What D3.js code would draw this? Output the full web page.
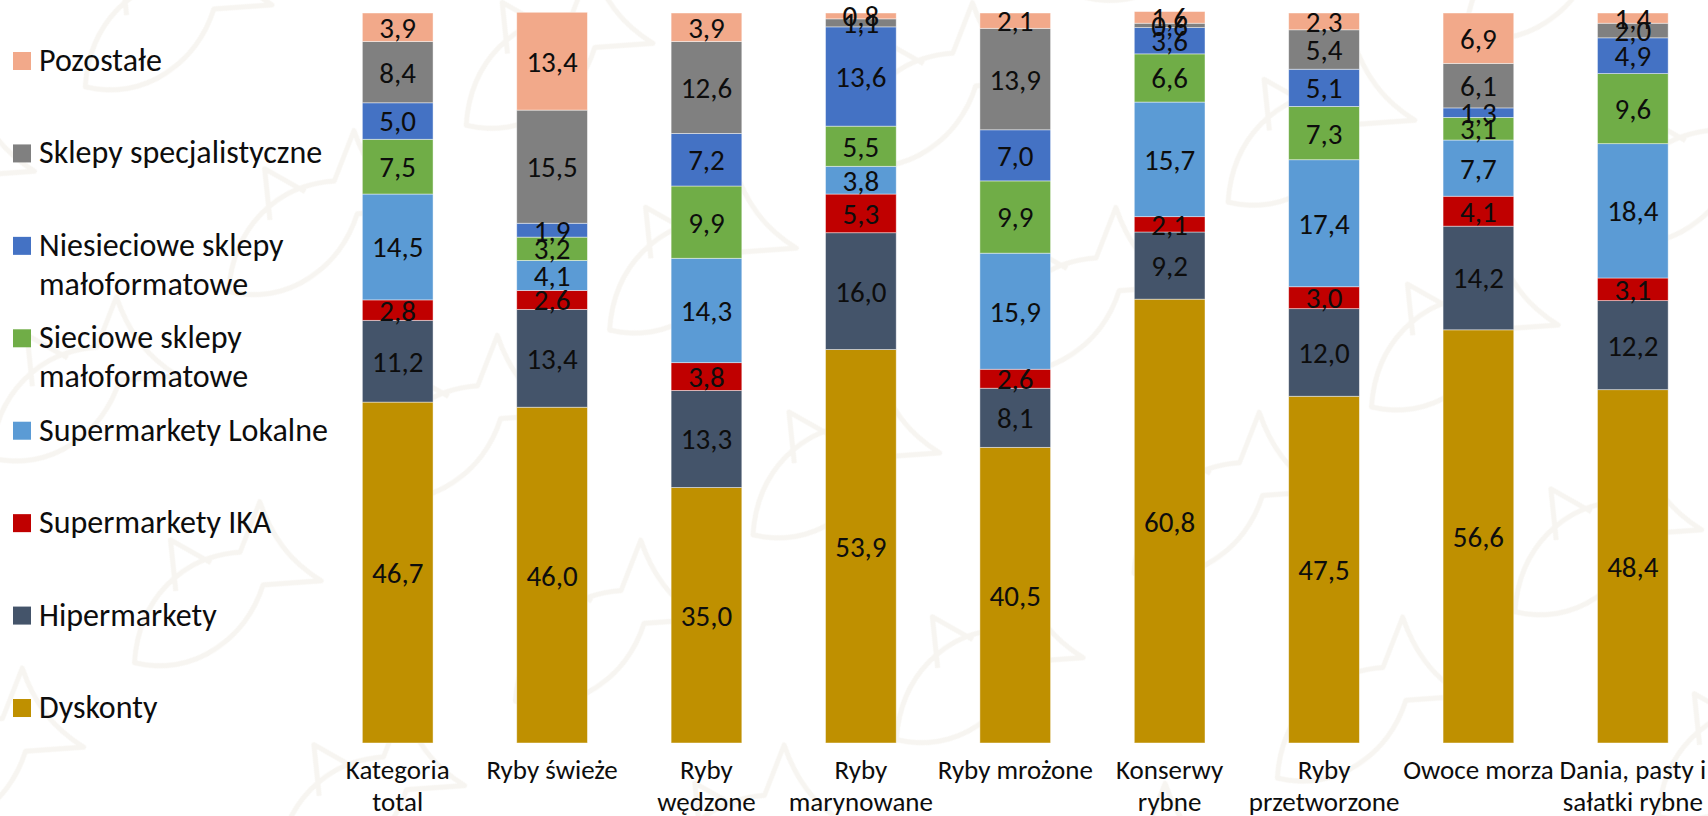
<!DOCTYPE html>
<html>
<head>
<meta charset="utf-8">
<script src="https://cdn.jsdelivr.net/npm/d3@7"></script>
<style>
  html, body { margin: 0; padding: 0; background: #fff; }
  svg { display: block; font-family: Carlito, Lato, sans-serif; }
</style>
</head>
<body>
<svg id="chart" width="1708" height="816"></svg>
<script>
// categories along the x axis ('\n' = line break in the label)
const categories = [
  'Kategoria\ntotal', 'Ryby świeże', 'Ryby\nwędzone', 'Ryby\nmarynowane', 'Ryby mrożone',
  'Konserwy\nrybne', 'Ryby\nprzetworzone', 'Owoce morza', 'Dania, pasty i\nsałatki rybne'
]

// series, bottom of the stack first
const seriesNames = [
  'Dyskonty', 'Hipermarkety', 'Supermarkety IKA', 'Supermarkety Lokalne',
  'Sieciowe sklepy\nmałoformatowe', 'Niesieciowe sklepy\nmałoformatowe',
  'Sklepy specjalistyczne', 'Pozostałe'
]
const seriesColors = ['#BF9000', '#44546A', '#C00000', '#5B9BD5', '#70AD47', '#4472C4', '#808080', '#F2A98A']

// values per series, one per category (%)
const dyskonty = [46.7, 46.0, 35.0, 53.9, 40.5, 60.8, 47.5, 56.6, 48.4]
const hipermarkety = [11.2, 13.4, 13.3, 16.0, 8.1, 9.2, 12.0, 14.2, 12.2]
const supermarketyIka = [2.8, 2.6, 3.8, 5.3, 2.6, 2.1, 3.0, 4.1, 3.1]
const supermarketyLokalne = [14.5, 4.1, 14.3, 3.8, 15.9, 15.7, 17.4, 7.7, 18.4]
const siecioweMale = [7.5, 3.2, 9.9, 5.5, 9.9, 6.6, 7.3, 3.1, 9.6]
const niesiecioweMale = [5.0, 1.9, 7.2, 13.6, 7.0, 3.6, 5.1, 1.3, 4.9]
const specjalistyczne = [8.4, 15.5, 12.6, 1.1, 13.9, 0.6, 5.4, 6.1, 2.0]
const pozostale = [3.9, 13.4, 3.9, 0.8, 2.1, 1.6, 2.3, 6.9, 1.4]

const seriesValues = [dyskonty, hipermarkety, supermarketyIka, supermarketyLokalne,
  siecioweMale, niesiecioweMale, specjalistyczne, pozostale]

const width = 1708
const height = 816
const plot = { top: 13, bottom: 743, left: 320.5, right: 1710 }

const svg = d3.select('#chart')

// faint fish watermark behind everything
const defs = svg.append('defs')
const fish = defs.append('pattern')
  .attr('id', 'fish')
  .attr('patternUnits', 'userSpaceOnUse')
  .attr('width', 290)
  .attr('height', 250)
  .attr('patternTransform', 'rotate(-35)')
fish.append('path')
  .attr('d', 'M20,120 C60,70 120,60 170,90 L215,60 C205,95 205,125 220,160 L170,130 C125,165 60,165 20,120 Z M95,85 L120,40 L140,82')
  .attr('fill', 'none')
  .attr('stroke', '#f7f5f1')
  .attr('stroke-width', 5)
  .attr('stroke-linejoin', 'round')
svg.append('rect')
  .attr('width', width)
  .attr('height', height)
  .attr('fill', 'url(#fish)')

// table for d3.stack
const keys = seriesNames.map((d, i) => 's' + i)
const table = categories.map((c, j) => {
  const row = { category: c }
  keys.forEach((k, i) => { row[k] = seriesValues[i][j] })
  return row
})

const xScale = d3.scaleBand()
  .domain(categories)
  .range([plot.left, plot.right])
  .paddingInner(0.542)
  .paddingOuter(0.271)

const yScale = d3.scaleLinear()
  .domain([0, 100])
  .range([plot.bottom, plot.top])

const color = d3.scaleOrdinal().domain(keys).range(seriesColors)

const stacked = d3.stack().keys(keys)(table)

const layers = svg.append('g')
  .selectAll('g')
  .data(stacked)
  .join('g')
  .attr('fill', d => color(d.key))

layers.selectAll('rect')
  .data(d => d)
  .join('rect')
  .attr('x', d => xScale(d.data.category))
  .attr('y', d => yScale(d[1]))
  .attr('width', xScale.bandwidth())
  .attr('height', d => yScale(d[0]) - yScale(d[1]))
  .attr('stroke', '#ffffff')
  .attr('stroke-opacity', 0.55)
  .attr('stroke-width', 0.8)

// value labels, centred in each segment
const fmt = v => d3.format('.1f')(v).replace('.', ',')

svg.append('g')
  .selectAll('g')
  .data(stacked)
  .join('g')
  .selectAll('text')
  .data(d => d)
  .join('text')
  .attr('x', d => xScale(d.data.category) + xScale.bandwidth() / 2)
  .attr('y', d => (yScale(d[0]) + yScale(d[1])) / 2)
  .attr('dy', '0.36em')
  .attr('text-anchor', 'middle')
  .style('font-size', '29px')
  .style('fill', '#0d0d0d')
  .text(d => fmt(d[1] - d[0]))

// x axis with wrapped labels
const xAxis = d3.axisBottom(xScale).tickSize(0).tickSizeOuter(0)

function customXAxis (g) {
  g.call(xAxis)
  g.select('.domain').remove()
  g.selectAll('.tick text')
    .attr('y', 0)
    .attr('dy', null)
    .style('font-size', '27px')
    .style('font-family', 'Carlito, Lato, sans-serif')
    .style('fill', '#0d0d0d')
    .each(function (d) {
      const t = d3.select(this).text('')
      d.split('\n').forEach((line, i) => {
        t.append('tspan').attr('x', 0).attr('dy', i === 0 ? 0 : 32).text(line)
      })
    })
}

svg.append('g')
  .attr('transform', `translate(0, ${plot.bottom + 36})`)
  .call(customXAxis)

// legend, top entry is the top of the stack
const legendItems = seriesNames.map((name, i) => ({ name, color: seriesColors[i] })).reverse()

const legend = svg.append('g')
  .selectAll('g')
  .data(legendItems)
  .join('g')
  .attr('transform', (d, i) => `translate(13, ${61 + i * 92.43})`)

legend.append('rect')
  .attr('x', 0)
  .attr('y', -9)
  .attr('width', 18)
  .attr('height', 18)
  .attr('fill', d => d.color)

legend.append('text')
  .attr('x', 26)
  .attr('y', 10)
  .style('font-size', '32px')
  .style('fill', '#0d0d0d')
  .each(function (d) {
    const t = d3.select(this)
    d.name.split('\n').forEach((line, i) => {
      t.append('tspan').attr('x', 26).attr('dy', i === 0 ? 0 : 39).text(line)
    })
  })
</script>
</body>
</html>
